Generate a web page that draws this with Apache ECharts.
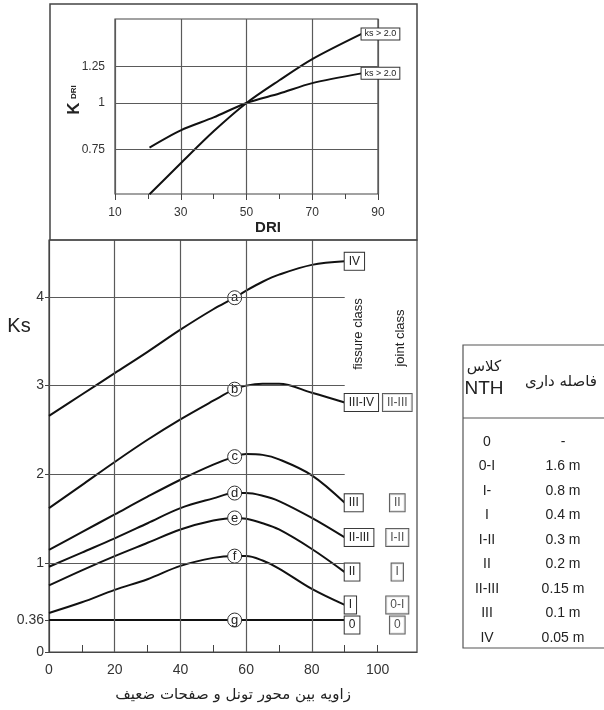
<!DOCTYPE html>
<html>
<head>
<meta charset="utf-8">
<script src="https://cdn.jsdelivr.net/npm/echarts@6/dist/echarts.min.js"></script>
<style>html,body{margin:0;padding:0;background:#fff}#c{width:604px;height:710px}</style>
</head>
<body>
<div id="c"></div>
<script>
// ---------- DATA ----------
// Top chart: K_DRI vs DRI
const driX = [20.5, 30, 40, 50, 60, 70, 85];
const kdriSteep = [0.57, 0.69, 0.84, 1.0, 1.15, 1.31, 1.53];
const kdriFlat = [0.76, 0.845, 0.915, 1.0, 1.06, 1.13, 1.20];
const topCurveLabels = ['ks > 2.0', 'ks > 2.0'];
const topYTicks = [0.75, 1, 1.25];

// Bottom chart: Ks vs angle
const angles = [0, 10, 20, 30, 40, 50, 56.5, 60, 65, 70, 80, 90];
const curveA = [2.66, 2.90, 3.14, 3.38, 3.63, 3.86, 3.99, 4.07, 4.17, 4.25, 4.36, 4.40];
const curveB = [1.62, 1.88, 2.14, 2.39, 2.62, 2.83, 2.96, 3.00, 3.02, 3.02, 2.92, 2.81];
const curveC = [1.15, 1.35, 1.55, 1.75, 1.94, 2.11, 2.20, 2.23, 2.22, 2.17, 1.99, 1.68];
const curveD = [0.96, 1.12, 1.28, 1.45, 1.62, 1.73, 1.79, 1.79, 1.76, 1.70, 1.51, 1.29];
const curveE = [0.75, 0.92, 1.08, 1.23, 1.38, 1.48, 1.51, 1.50, 1.45, 1.38, 1.16, 0.90];
const curveF = [0.44, 0.56, 0.70, 0.82, 0.97, 1.06, 1.08, 1.08, 1.03, 0.94, 0.71, 0.53];
const curveG = [0.36, 0.36, 0.36, 0.36, 0.36, 0.36, 0.36, 0.36, 0.36, 0.36, 0.36, 0.36];
const curveLetters = ['a', 'b', 'c', 'd', 'e', 'f', 'g'];
const markerAngle = 56.5;
const fissureClass = ['IV', 'III-IV', 'III', 'II-III', 'II', 'I', '0'];
const jointClass = [null, 'II-III', 'II', 'I-II', 'I', '0-I', '0'];
const jointColumnX = 106;
const bottomYTicks = [0, 0.36, 1, 2, 3, 4];
const bottomXLabels = [0, 20, 40, 60, 80, 100];
const bottomXMinor = [10, 30, 50, 70, 90, 100];
const bottomGridX = [20, 40, 60, 80];
const bottomGridY = [1, 2, 3, 4];
const bottomGridYEnd = 90;

// Table
const tableHeaderClass = ['کلاس', 'NTH'];
const tableHeaderSpacing = 'فاصله داری';
const nthClasses = ['0', '0-I', 'I-', 'I', 'I-II', 'II', 'II-III', 'III', 'IV'];
const nthSpacing = ['-', '1.6 m', '0.8 m', '0.4 m', '0.3 m', '0.2 m', '0.15 m', '0.1 m', '0.05 m'];

const xTitle = 'زاویه بین محور تونل و صفحات ضعیف';

// ---------- CHART ----------
const NARROW = "'Liberation Sans Narrow','Arial Narrow','Liberation Sans',Arial,sans-serif";
const INK = '#111';
const GRIDC = '#5a5a5a';
const chart = echarts.init(document.getElementById('c'), null, {renderer: 'canvas'});

const curves = [curveA, curveB, curveC, curveD, curveE, curveF, curveG];
const boxLabel = {
  borderColor: '#333', borderWidth: 1, backgroundColor: '#fff',
  padding: [3, 4, 2, 4], fontSize: 12, color: '#222', fontFamily: NARROW
};

const series = [];

// top curves
[kdriSteep, kdriFlat].forEach((ys, k) => {
  series.push({
    type: 'line', xAxisIndex: 0, yAxisIndex: 0, smooth: 0.3, symbol: 'none',
    lineStyle: {color: INK, width: 2},
    data: driX.map((x, i) => [x, ys[i]]),
    endLabel: {show: true, formatter: topCurveLabels[k], distance: 0, fontSize: 9,
      color: '#222', borderColor: '#333', borderWidth: 1, backgroundColor: '#fff', padding: [1, 3],
      fontFamily: NARROW},
    markLine: k === 0 ? {
      silent: true, symbol: ['none', 'none'],
      lineStyle: {color: GRIDC, width: 1.2, type: 'solid'},
      label: {show: true, position: 'start', formatter: '{c}', fontSize: 12, color: '#333', distance: 10, fontFamily: NARROW},
      data: topYTicks.map(v => ({yAxis: v}))
    } : undefined,
    z: 3
  });
});

// bottom curves
curves.forEach((ys, k) => {
  const offs = k === 6 ? [0, 5] : [0, 0];
  series.push({
    type: 'line', xAxisIndex: 1, yAxisIndex: 1, smooth: 0.35, symbol: 'none',
    showSymbol: true, showAllSymbol: true,
    lineStyle: {color: INK, width: 2},
    data: angles.map((x, i) => x === markerAngle ? {
      value: [x, ys[i]], symbol: 'circle', symbolSize: 14,
      itemStyle: {color: '#fff', borderColor: '#333', borderWidth: 1},
      label: {show: true, position: 'inside', formatter: curveLetters[k], fontSize: 13, color: '#222', fontFamily: 'Liberation Sans'}
    } : [x, ys[i]]),
    endLabel: Object.assign({show: true, formatter: fissureClass[k], distance: 0, offset: offs}, boxLabel),
    z: 3
  });
});

// joint class labels
series.push({
  type: 'scatter', xAxisIndex: 1, yAxisIndex: 1, symbolSize: 0.01, silent: true,
  data: curves.map((ys, k) => ({value: [jointColumnX, ys[ys.length - 1]], name: jointClass[k]}))
    .filter(d => d.name),
  label: Object.assign({show: true, position: 'inside', formatter: p => p.name}, boxLabel),
  labelLayout: function (p) { return p.dataIndex === 5 ? {dy: 5} : {}; },
  z: 4
});

// bottom grid lines
series.push({
  type: 'line', xAxisIndex: 1, yAxisIndex: 1, data: [], silent: true,
  markLine: {
    silent: true, symbol: ['none', 'none'], label: {show: false},
    lineStyle: {color: GRIDC, width: 1.2, type: 'solid'},
    data: bottomGridX.map(v => ({xAxis: v})).concat(
      bottomGridY.map(v => [{coord: [0, v]}, {coord: [bottomGridYEnd, v]}]))
  }
});

const option = {
  animation: false,
  backgroundColor: '#fff',
  textStyle: {fontFamily: NARROW},
  grid: [
    {left: 115, right: 226, top: 19, bottom: 516, show: true, borderColor: '#444', borderWidth: 1.2},
    {left: 49, right: 187, top: 240, bottom: 58, show: true, borderColor: '#444', borderWidth: 1.2}
  ],
  xAxis: [
    {gridIndex: 0, type: 'value', min: 10, max: 90, interval: 20,
      axisLine: {show: false},
      axisTick: {show: true, length: 6, lineStyle: {color: '#444'}},
      minorTick: {show: true, splitNumber: 2, length: 5, lineStyle: {color: '#444'}},
      axisLabel: {fontSize: 12, color: '#333', margin: 13, fontFamily: NARROW},
      splitLine: {show: true, lineStyle: {color: GRIDC, width: 1.2}}},
    {gridIndex: 1, type: 'value', min: 0, max: 112, interval: 20,
      axisLine: {show: true, lineStyle: {color: '#444', width: 1.2}},
      axisTick: {show: true, inside: true, length: 7, customValues: bottomXMinor, lineStyle: {color: '#444'}},
      axisLabel: {customValues: bottomXLabels, fontSize: 14, color: '#333', margin: 11, fontFamily: NARROW},
      splitLine: {show: false}}
  ],
  yAxis: [
    {gridIndex: 0, type: 'log', logBase: 10, min: 0.571, max: 1.677,
      axisLine: {show: false}, axisTick: {show: false}, axisLabel: {show: false}, splitLine: {show: false}},
    {gridIndex: 1, type: 'value', min: 0, max: 4.64,
      axisLine: {show: true, lineStyle: {color: '#444', width: 1.2}},
      axisTick: {show: true, length: 4, customValues: bottomYTicks, lineStyle: {color: '#444'}},
      axisLabel: {customValues: bottomYTicks, fontSize: 14, color: '#333', margin: 5, fontFamily: NARROW},
      splitLine: {show: false}}
  ],
  series: series,
  graphic: [
    {type: 'rect', shape: {x: 50, y: 4, width: 367, height: 236}, style: {fill: 'none', stroke: '#444', lineWidth: 1.5}, z: 10},
    {type: 'text', x: 74, y: 100, rotation: Math.PI / 2,
      style: {text: '{k|K} {s|DRI}', rich: {k: {fontSize: 17, fontWeight: 'bold', fontFamily: 'Liberation Sans'}, s: {fontSize: 8, fontWeight: 'bold', fontFamily: 'Liberation Sans'}},
        align: 'center', verticalAlign: 'middle', fill: '#222'}},
    {type: 'text', x: 268, y: 228, style: {text: 'DRI', fontSize: 15, fontWeight: 'bold', fontFamily: NARROW, align: 'center', verticalAlign: 'middle', fill: '#222'}},
    {type: 'text', x: 19, y: 326, style: {text: 'Ks', fontSize: 20, fontFamily: NARROW, align: 'center', verticalAlign: 'middle', fill: '#222'}},
    {type: 'text', x: 358, y: 334, rotation: Math.PI / 2, style: {text: 'fissure class', fontSize: 13, fontFamily: 'Liberation Sans', align: 'center', verticalAlign: 'middle', fill: '#222'}},
    {type: 'text', x: 400, y: 338, rotation: Math.PI / 2, style: {text: 'joint class', fontSize: 13, fontFamily: 'Liberation Sans', align: 'center', verticalAlign: 'middle', fill: '#222'}},
    {type: 'text', x: 233, y: 695, style: {text: xTitle, fontSize: 15, fontFamily: "'DejaVu Sans', sans-serif", align: 'center', verticalAlign: 'middle', fill: '#222'}},
    // table
    {type: 'rect', shape: {x: 463, y: 345, width: 145, height: 303}, style: {fill: 'none', stroke: '#555', lineWidth: 1.2}},
    {type: 'line', shape: {x1: 463, y1: 418, x2: 608, y2: 418}, style: {stroke: '#555', lineWidth: 1.2}},
    {type: 'text', x: 484, y: 367, style: {text: tableHeaderClass[0], fontSize: 15, fontFamily: "'DejaVu Sans', sans-serif", align: 'center', verticalAlign: 'middle', fill: '#222'}},
    {type: 'text', x: 484, y: 389, style: {text: tableHeaderClass[1], fontSize: 19, fontFamily: NARROW, align: 'center', verticalAlign: 'middle', fill: '#222'}},
    {type: 'text', x: 561, y: 382, style: {text: tableHeaderSpacing, fontSize: 15, fontFamily: "'DejaVu Sans', sans-serif", align: 'center', verticalAlign: 'middle', fill: '#222'}}
  ].concat(nthClasses.map((t, i) => ({type: 'text', x: 487, y: 442 + i * 24.5,
      style: {text: t, fontSize: 14, fontFamily: NARROW, align: 'center', verticalAlign: 'middle', fill: '#222'}})))
   .concat(nthSpacing.map((t, i) => ({type: 'text', x: 563, y: 442 + i * 24.5,
      style: {text: t, fontSize: 14, fontFamily: NARROW, align: 'center', verticalAlign: 'middle', fill: '#222'}})))
};
chart.setOption(option);
</script>
</body>
</html>
